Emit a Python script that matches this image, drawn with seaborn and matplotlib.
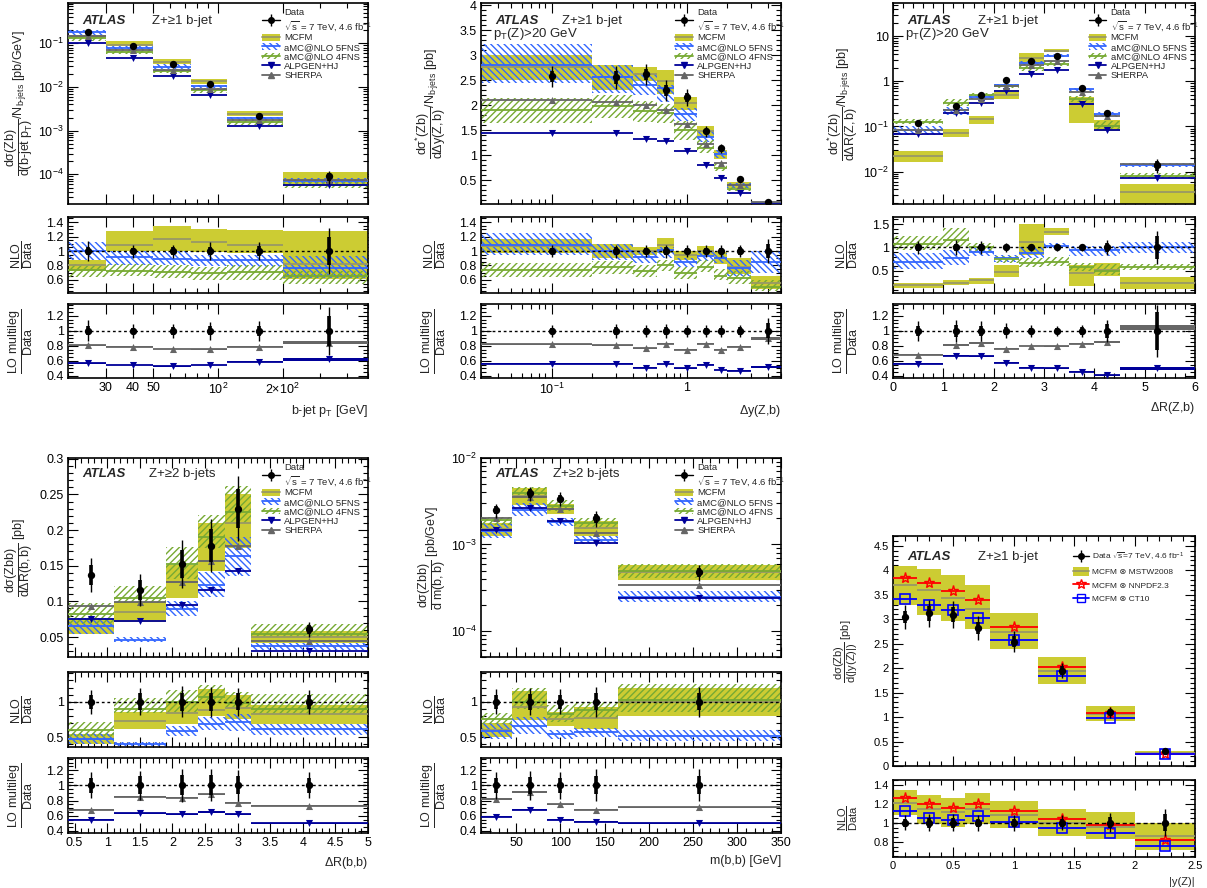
import numpy as np
import matplotlib
matplotlib.use("Agg")
import matplotlib.pyplot as plt
import seaborn as sns
from matplotlib.lines import Line2D
from matplotlib.patches import Patch
from matplotlib.ticker import (FixedLocator, FuncFormatter, MultipleLocator,
                               NullFormatter, LogLocator)

# ---------------- data (predictions stored as ratio to data) ----------------
# b-jet pT, Z + >=1 b-jet
pt_edges = [20, 30, 50, 75, 110, 200, 500]
pt_x = [24.8, 40, 62, 92, 155, 330]
pt_data = [0.18, 0.087, 0.033, 0.012, 0.0022, 9e-5]
pt_err = [0.14, 0.09, 0.09, 0.12, 0.13, 0.32]
pt_stat = [0.06, 0.045, 0.05, 0.06, 0.07, 0.2]
pt_mcfm = [0.80, 1.08, 1.16, 1.12, 1.09, 0.82]
pt_mcfm_lo = [0.72, 1.0, 1.0, 0.98, 0.97, 0.62]
pt_mcfm_hi = [0.88, 1.27, 1.35, 1.30, 1.29, 1.28]
pt_5f = [1.0, 0.92, 0.89, 0.87, 0.87, 0.77]
pt_5f_lo = [0.88, 0.80, 0.80, 0.79, 0.78, 0.63]
pt_5f_hi = [1.12, 1.0, 1.0, 0.95, 0.95, 0.93]
pt_4f = [0.74, 0.73, 0.71, 0.70, 0.71, 0.65]
pt_4f_lo = [0.64, 0.65, 0.63, 0.60, 0.60, 0.55]
pt_4f_hi = [0.82, 0.82, 0.80, 0.78, 0.80, 0.73]
pt_sh = [0.81, 0.79, 0.76, 0.755, 0.79, 0.845]
pt_sh_unc = [0.006, 0.006, 0.006, 0.006, 0.008, 0.022]
pt_alp = [0.57, 0.545, 0.53, 0.545, 0.59, 0.62]
pt_alp_unc = [0.005, 0.005, 0.005, 0.005, 0.008, 0.015]

# Delta y(Z,b)
dy_edges = [0.03, 0.2, 0.4, 0.6, 0.8, 1.2, 1.6, 2.0, 3.0, 5.0]
dy_x = [0.1, 0.3, 0.5, 0.7, 1.0, 1.4, 1.8, 2.5, 4.0]
dy_data = [2.58, 2.56, 2.62, 2.30, 2.16, 1.48, 1.14, 0.52, 0.07]
dy_err = [0.08, 0.09, 0.08, 0.09, 0.08, 0.08, 0.08, 0.08, 0.17]
dy_stat = [0.04, 0.05, 0.04, 0.05, 0.04, 0.04, 0.04, 0.05, 0.10]
dy_mcfm = [1.07, 1.0, 1.0, 1.08, 0.95, 1.0, 0.90, 0.78, 0.56]
dy_mcfm_lo = [0.97, 0.90, 0.95, 0.97, 0.88, 0.93, 0.82, 0.68, 0.47]
dy_mcfm_hi = [1.17, 1.10, 1.06, 1.18, 1.0, 1.07, 0.98, 0.90, 0.65]
dy_5f = [1.09, 1.0, 0.92, 1.02, 0.85, 0.93, 0.91, 0.77, 0.85]
dy_5f_lo = [0.95, 0.88, 0.84, 0.90, 0.78, 0.86, 0.84, 0.66, 0.70]
dy_5f_hi = [1.25, 1.10, 1.0, 1.05, 0.90, 1.02, 0.97, 0.87, 1.0]
dy_4f = [0.74, 0.78, 0.72, 0.80, 0.70, 0.78, 0.66, 0.63, 0.50]
dy_4f_lo = [0.64, 0.68, 0.64, 0.72, 0.61, 0.71, 0.60, 0.55, 0.45]
dy_4f_hi = [0.83, 0.86, 0.80, 0.88, 0.78, 0.88, 0.75, 0.73, 0.60]
dy_sh = [0.82, 0.81, 0.77, 0.83, 0.75, 0.83, 0.75, 0.79, 0.90]
dy_sh_unc = [0.004, 0.004, 0.004, 0.004, 0.004, 0.005, 0.005, 0.006, 0.02]
dy_alp = [0.565, 0.565, 0.51, 0.56, 0.50, 0.55, 0.48, 0.47, 0.52]
dy_alp_unc = [0.004, 0.004, 0.004, 0.004, 0.004, 0.005, 0.005, 0.005, 0.01]

# Delta R(Z,b)
dr_edges = [0, 1, 1.5, 2, 2.5, 3, 3.5, 4, 4.5, 6]
dr_x = [0.5, 1.25, 1.75, 2.25, 2.75, 3.25, 3.75, 4.25, 5.25]
dr_data = [0.119, 0.29, 0.49, 1.05, 2.9, 3.6, 0.71, 0.20, 0.014]
dr_err = [0.13, 0.15, 0.13, 0.10, 0.08, 0.07, 0.08, 0.15, 0.35]
dr_stat = [0.07, 0.08, 0.07, 0.05, 0.04, 0.04, 0.05, 0.09, 0.25]
dr_mcfm = [0.19, 0.25, 0.30, 0.48, 1.12, 1.33, 0.45, 0.52, 0.25]
dr_mcfm_lo = [0.14, 0.20, 0.23, 0.38, 0.85, 1.27, 0.17, 0.40, 0.12]
dr_mcfm_hi = [0.24, 0.30, 0.35, 0.62, 1.50, 1.42, 0.62, 0.68, 0.38]
dr_5f = [0.70, 0.78, 0.90, 0.78, 0.88, 1.04, 0.94, 0.95, 1.0]
dr_5f_lo = [0.55, 0.62, 0.82, 0.70, 0.78, 0.98, 0.82, 0.82, 0.88]
dr_5f_hi = [0.88, 0.95, 1.0, 0.85, 1.0, 1.10, 1.03, 1.03, 1.12]
dr_4f = [1.08, 1.17, 1.0, 0.75, 0.67, 0.69, 0.58, 0.50, 0.58]
dr_4f_lo = [0.95, 1.0, 0.90, 0.68, 0.58, 0.60, 0.50, 0.42, 0.52]
dr_4f_hi = [1.25, 1.42, 1.10, 0.82, 0.78, 0.80, 0.68, 0.65, 0.65]
dr_sh = [0.685, 0.815, 0.84, 0.765, 0.80, 0.795, 0.83, 0.85, 1.05]
dr_sh_unc = [0.008, 0.01, 0.01, 0.006, 0.006, 0.006, 0.008, 0.012, 0.035]
dr_alp = [0.565, 0.67, 0.665, 0.575, 0.51, 0.50, 0.455, 0.41, 0.505]
dr_alp_unc = [0.006, 0.008, 0.006, 0.005, 0.005, 0.005, 0.006, 0.008, 0.02]

# Delta R(b,b), Z + >=2 b-jets
bb_edges = [0.4, 1.1, 1.9, 2.4, 2.8, 3.2, 5.0]
bb_x = [0.75, 1.5, 2.15, 2.6, 3.0, 4.1]
bb_data = [0.137, 0.116, 0.152, 0.178, 0.23, 0.061]
bb_err = [0.17, 0.19, 0.22, 0.21, 0.20, 0.17]
bb_stat = [0.10, 0.12, 0.13, 0.13, 0.12, 0.10]
bb_mcfm = [0.48, 0.73, 0.84, 0.88, 0.91, 0.82]
bb_mcfm_lo = [0.40, 0.61, 0.69, 0.80, 0.76, 0.69]
bb_mcfm_hi = [0.55, 0.86, 0.99, 1.18, 1.09, 0.95]
bb_5f = [0.48, 0.40, 0.59, 0.69, 0.71, 0.62]
bb_5f_lo = [0.40, 0.37, 0.52, 0.60, 0.59, 0.53]
bb_5f_hi = [0.56, 0.43, 0.66, 0.79, 0.83, 0.69]
bb_4f = [0.60, 0.90, 1.0, 1.07, 0.98, 0.90]
bb_4f_lo = [0.50, 0.84, 0.86, 0.98, 0.91, 0.82]
bb_4f_hi = [0.71, 1.05, 1.16, 1.24, 1.14, 1.11]
bb_sh = [0.68, 0.85, 0.84, 0.88, 0.77, 0.73]
bb_sh_unc = [0.006, 0.006, 0.006, 0.006, 0.006, 0.005]
bb_alp = [0.55, 0.63, 0.62, 0.65, 0.62, 0.50]
bb_alp_unc = [0.008, 0.008, 0.008, 0.008, 0.008, 0.008]

# m(b,b)
mbb_edges = [10, 45, 85, 115, 165, 350]
mbb_x = [27.5, 65, 100, 140, 257.5]
mbb_data = [0.0025, 0.0039, 0.0034, 0.0020, 0.00048]
mbb_err = [0.18, 0.19, 0.18, 0.21, 0.21]
mbb_stat = [0.10, 0.11, 0.10, 0.12, 0.12]
mbb_mcfm = [0.60, 0.93, 0.76, 0.77, 1.0]
mbb_mcfm_lo = [0.50, 0.74, 0.66, 0.62, 0.80]
mbb_mcfm_hi = [0.70, 1.15, 0.86, 0.93, 1.20]
mbb_5f = [0.58, 0.65, 0.54, 0.57, 0.52]
mbb_5f_lo = [0.48, 0.55, 0.48, 0.50, 0.45]
mbb_5f_hi = [0.70, 0.78, 0.60, 0.63, 0.60]
mbb_4f = [0.76, 1.0, 0.82, 0.88, 1.02]
mbb_4f_lo = [0.68, 0.90, 0.72, 0.75, 0.85]
mbb_4f_hi = [0.84, 1.20, 0.95, 1.0, 1.25]
mbb_sh = [0.82, 0.91, 0.75, 0.68, 0.71]
mbb_sh_unc = [0.008, 0.01, 0.008, 0.006, 0.005]
mbb_alp = [0.59, 0.68, 0.55, 0.52, 0.50]
mbb_alp_unc = [0.008, 0.008, 0.008, 0.008, 0.008]

# |y(Z)|
yz_edges = [0, 0.2, 0.4, 0.6, 0.8, 1.2, 1.6, 2.0, 2.5]
yz_x = [0.1, 0.3, 0.5, 0.7, 1.0, 1.4, 1.8, 2.25]
yz_data = [3.05, 3.12, 3.09, 2.82, 2.54, 1.95, 1.10, 0.31]
yz_err = [0.08, 0.09, 0.09, 0.085, 0.085, 0.08, 0.10, 0.14]
yz_stat = [0.04, 0.05, 0.05, 0.045, 0.045, 0.045, 0.06, 0.09]
yz_mstw = [1.21, 1.15, 1.11, 1.14, 1.08, 1.0, 0.96, 0.86]
yz_mstw_lo = [1.08, 0.99, 0.96, 0.99, 0.94, 0.86, 0.83, 0.71]
yz_mstw_hi = [1.34, 1.29, 1.26, 1.31, 1.23, 1.14, 1.11, 1.0]
yz_nnpdf = [1.26, 1.20, 1.16, 1.20, 1.12, 1.04, 0.98, 0.82]
yz_ct10 = [1.12, 1.055, 1.03, 1.07, 1.01, 0.94, 0.89, 0.76]

# ---------------- style ----------------
sns.set_theme(style="ticks")
plt.rcParams["font.family"] = ["Liberation Sans", "DejaVu Sans"]
plt.rcParams["mathtext.fontset"] = "custom"
plt.rcParams["mathtext.rm"] = "Liberation Sans"
plt.rcParams["mathtext.it"] = "Liberation Sans:italic"
plt.rcParams["mathtext.bf"] = "Liberation Sans:bold"
plt.rcParams["mathtext.default"] = "regular"
plt.rcParams["hatch.linewidth"] = 1.0

C_MCFM = "#cccc33"
C_MCFM_LINE = "#999966"
C_5F = "#3366ff"
C_4F = "#77aa33"
C_ALP = "#000099"
C_SH = "#666666"
H_5F = "\\\\\\\\\\"
H_4F = "/////"

W, H = 1207, 888
fig = plt.figure(figsize=(W / 100, H / 100), dpi=100)


def add_ax(x0, x1, y0, y1):
    return fig.add_axes([x0 / W, 1 - y1 / H, (x1 - x0) / W, (y1 - y0) / H])


def style(ax, fs=9):
    ax.set_facecolor("white")
    ax.tick_params(which="both", direction="in", top=True, right=True,
                   labelsize=fs, pad=3, color="black", labelcolor="black")
    ax.tick_params(which="major", length=7, width=0.8)
    ax.tick_params(which="minor", length=3.5, width=0.8)
    for s in ax.spines.values():
        s.set_visible(True)
        s.set_color("black")
        s.set_linewidth(1.2)


def gfmt(v, p):
    return f"{v:g}"


def log_fmt(v, p):
    n = int(round(np.log10(v)))
    if n == 0:
        return "1"
    if n == 1:
        return "10"
    return f"$10^{{{n}}}$"


def log_y(ax):
    ax.set_yscale("log")
    ax.yaxis.set_major_locator(LogLocator(base=10, numticks=20))
    ax.yaxis.set_minor_locator(LogLocator(base=10, subs=np.arange(2, 10), numticks=20))
    ax.yaxis.set_major_formatter(FuncFormatter(log_fmt))
    ax.yaxis.set_minor_formatter(NullFormatter())


def lin_y(ax, major, minor):
    ax.yaxis.set_major_locator(MultipleLocator(major))
    ax.yaxis.set_minor_locator(MultipleLocator(minor))
    ax.yaxis.set_major_formatter(FuncFormatter(gfmt))


def lin_x(ax, major, minor):
    ax.xaxis.set_major_locator(MultipleLocator(major))
    ax.xaxis.set_minor_locator(MultipleLocator(minor))
    ax.xaxis.set_major_formatter(FuncFormatter(gfmt))


def steps(ax, edges, vals, color, lw=1.3, z=4):
    e = np.asarray(edges, float)
    ax.hlines(vals, e[:-1], e[1:], colors=color, lw=lw, zorder=z)


def band(ax, edges, lo, hi, z=1, **kw):
    e = np.asarray(edges, float)
    lo = np.asarray(lo, float)
    hi = np.asarray(hi, float)
    ax.bar(e[:-1], hi - lo, width=np.diff(e), bottom=lo, align="edge", zorder=z, **kw)


def hatched(ax, edges, lo, hi, color, hatch, z=2):
    band(ax, edges, lo, hi, facecolor="none", edgecolor=color, hatch=hatch, lw=0, z=z)


def data_points(ax, x, y, err, stat, s=28):
    y = np.asarray(y, float)
    ax.errorbar(x, y, yerr=y * np.asarray(err), fmt="none", ecolor="black",
                elinewidth=1.0, capsize=0, zorder=8)
    ax.errorbar(x, y, yerr=y * np.asarray(stat), fmt="none", ecolor="black",
                elinewidth=2.6, capsize=0, zorder=8)
    sns.scatterplot(x=x, y=y, color="black", s=s, linewidth=0, zorder=9, ax=ax, legend=False)


def gen_markers(ax, x, y, color, marker):
    sns.scatterplot(x=x, y=y, color=color, marker=marker, s=26, linewidth=0,
                    zorder=6, ax=ax, legend=False)


def unit_line(ax, ls=(0, (2, 2))):
    ax.axhline(1.0, color="black", lw=1.0, ls=ls, zorder=7)


def data_handle():
    return (Line2D([], [], color="black", marker="o", ms=4, lw=1.0),
            Line2D([], [], color="black", marker="|", ms=9, mew=1.0, lw=0))


def nlo_legend(ax):
    h = [data_handle(),
         (Patch(facecolor=C_MCFM, lw=0), Line2D([], [], color=C_MCFM_LINE, lw=1.3)),
         (Patch(facecolor="none", edgecolor=C_5F, hatch=H_5F, lw=0), Line2D([], [], color=C_5F, lw=1.3)),
         (Patch(facecolor="none", edgecolor=C_4F, hatch=H_4F, lw=0), Line2D([], [], color=C_4F, lw=1.3)),
         Line2D([], [], color=C_ALP, marker="v", ms=5, lw=1.3),
         Line2D([], [], color=C_SH, marker="^", ms=5, lw=1.3)]
    labels = ["Data\n$\\sqrt{s}$ = 7 TeV, 4.6 fb$^{-1}$", "MCFM", "aMC@NLO 5FNS",
              "aMC@NLO 4FNS", "ALPGEN+HJ", "SHERPA"]
    leg = ax.legend(h, labels, loc="upper left", bbox_to_anchor=(0.635, 0.995),
                    frameon=False, fontsize=6.8, handlelength=1.9, handleheight=0.75,
                    labelspacing=0.05, borderaxespad=0, handletextpad=0.45)
    leg.set_zorder(20)


def build(edges, x, data, err, stat, mcfm, mcfm_lo, mcfm_hi, f5, f5_lo, f5_hi,
          f4, f4_lo, f4_hi, sh, sh_unc, alp, alp_unc):
    return {k: np.asarray(v, float) for k, v in dict(locals()).items()}


def block(P, cx, ry, logx, xlim):
    am = add_ax(cx[0], cx[1], ry[0], ry[1])
    an = add_ax(cx[0], cx[1], ry[2], ry[3])
    al = add_ax(cx[0], cx[1], ry[4], ry[5])
    for a in (am, an, al):
        style(a)
        if logx:
            a.set_xscale("log")
    d, e = P["data"], P["edges"]
    ones = d / d

    # main distribution
    band(am, e, d * P["mcfm_lo"], d * P["mcfm_hi"], color=C_MCFM, lw=0, z=1)
    hatched(am, e, d * P["f5_lo"], d * P["f5_hi"], C_5F, H_5F)
    hatched(am, e, d * P["f4_lo"], d * P["f4_hi"], C_4F, H_4F)
    steps(am, e, d * P["mcfm"], C_MCFM_LINE)
    steps(am, e, d * P["f5"], C_5F)
    steps(am, e, d * P["f4"], C_4F)
    steps(am, e, d * P["alp"], C_ALP)
    steps(am, e, d * P["sh"], C_SH)
    gen_markers(am, P["x"], d * P["alp"], C_ALP, "v")
    gen_markers(am, P["x"], d * P["sh"], C_SH, "^")
    data_points(am, P["x"], d, P["err"], P["stat"])

    # NLO / data
    band(an, e, P["mcfm_lo"], P["mcfm_hi"], color=C_MCFM, lw=0, z=1)
    hatched(an, e, P["f5_lo"], P["f5_hi"], C_5F, H_5F)
    hatched(an, e, P["f4_lo"], P["f4_hi"], C_4F, H_4F)
    steps(an, e, P["mcfm"], C_MCFM_LINE)
    steps(an, e, P["f5"], C_5F)
    steps(an, e, P["f4"], C_4F)
    unit_line(an)
    data_points(an, P["x"], ones, P["err"], P["stat"])

    # LO multileg / data
    band(al, e, P["sh"] - P["sh_unc"], P["sh"] + P["sh_unc"], color=C_SH, lw=0, z=3)
    band(al, e, P["alp"] - P["alp_unc"], P["alp"] + P["alp_unc"], color=C_ALP, lw=0, z=3)
    steps(al, e, P["sh"], C_SH)
    steps(al, e, P["alp"], C_ALP)
    gen_markers(al, P["x"], P["sh"], C_SH, "^")
    gen_markers(al, P["x"], P["alp"], C_ALP, "v")
    unit_line(al)
    data_points(al, P["x"], ones, P["err"], P["stat"])

    for a in (am, an, al):
        a.set_xlim(xlim)
    am.tick_params(labelbottom=False)
    an.tick_params(labelbottom=False)
    an.set_ylabel(r"$\dfrac{NLO}{Data}$", fontsize=9)
    al.set_ylabel(r"$\dfrac{LO\ multileg}{Data}$", fontsize=9)
    lin_y(al, 0.2, 0.05)
    al.set_ylim(0.373, 1.36)
    nlo_legend(am)
    return am, an, al


def atlas(ax, x_z, label, y=0.91):
    ax.text(0.047, y, "ATLAS", transform=ax.transAxes, fontsize=9.5,
            fontweight="bold", fontstyle="italic", va="center", zorder=20)
    ax.text(x_z, y, label, transform=ax.transAxes, fontsize=9.5, va="center", zorder=20)


def label_pos(axes, x):
    for a in axes:
        a.yaxis.set_label_coords(x, 0.5)


TOP = (3, 204, 217, 293, 304, 378)
BOT = (458, 657, 672, 747, 758, 833)
COL = [(68, 368), (481, 781), (893, 1195)]

# ---------------- panel 1: b-jet pT ----------------
P = build(pt_edges, pt_x, pt_data, pt_err, pt_stat, pt_mcfm, pt_mcfm_lo, pt_mcfm_hi,
          pt_5f, pt_5f_lo, pt_5f_hi, pt_4f, pt_4f_lo, pt_4f_hi,
          pt_sh, pt_sh_unc, pt_alp, pt_alp_unc)
am, an, al = block(P, COL[0], TOP, True, (20, 500))
log_y(am)
am.set_ylim(2.1e-5, 0.84)
lin_y(an, 0.2, 0.05)
an.set_ylim(0.42, 1.47)
for a in (am, an, al):
    a.xaxis.set_major_locator(FixedLocator([30, 40, 50, 100, 200]))
    a.xaxis.set_minor_locator(FixedLocator([20, 60, 70, 80, 90, 300, 400, 500]))
    a.xaxis.set_minor_formatter(NullFormatter())
al.xaxis.set_major_formatter(FuncFormatter(
    lambda v, p: {30: "30", 40: "40", 50: "50", 100: "$10^{2}$", 200: "$2{\\times}10^{2}$"}.get(int(round(v)), "")))
am.set_ylabel(r"$\dfrac{d\sigma(Zb)}{d(b\text{-}jet\ p_{T})}$/N$_{b\text{-}jets}$ [pb/GeV]", fontsize=9)
al.set_xlabel(r"b-jet p$_{T}$ [GeV]", loc="right", fontsize=9)
atlas(am, 0.28, "Z+≥1 b-jet")
label_pos((am, an, al), -0.11)

# ---------------- panel 2: Delta y(Z,b) ----------------
P = build(dy_edges, dy_x, dy_data, dy_err, dy_stat, dy_mcfm, dy_mcfm_lo, dy_mcfm_hi,
          dy_5f, dy_5f_lo, dy_5f_hi, dy_4f, dy_4f_lo, dy_4f_hi,
          dy_sh, dy_sh_unc, dy_alp, dy_alp_unc)
am, an, al = block(P, COL[1], TOP, True, (0.03, 5.0))
lin_y(am, 0.5, 0.1)
am.set_ylim(0.03, 4.05)
lin_y(an, 0.2, 0.05)
an.set_ylim(0.42, 1.47)
minor_dy = [0.03, 0.04, 0.05, 0.06, 0.07, 0.08, 0.09, 0.2, 0.3, 0.4, 0.5, 0.6, 0.7,
            0.8, 0.9, 2, 3, 4, 5]
for a in (am, an, al):
    a.xaxis.set_major_locator(FixedLocator([0.1, 1.0]))
    a.xaxis.set_minor_locator(FixedLocator(minor_dy))
    a.xaxis.set_minor_formatter(NullFormatter())
al.xaxis.set_major_formatter(FuncFormatter(lambda v, p: "1" if v > 0.5 else "$10^{-1}$"))
am.set_ylabel(r"$\dfrac{d\sigma^{*}(Zb)}{d\Delta y(Z,b)}$/N$_{b\text{-}jets}$ [pb]", fontsize=9)
al.set_xlabel(r"$\Delta$y(Z,b)", loc="right", fontsize=9)
atlas(am, 0.27, "Z+≥1 b-jet")
am.text(0.04, 0.845, r"p$_{T}$(Z)>20 GeV", transform=am.transAxes, fontsize=9.5, va="center", zorder=20)
label_pos((am, an, al), -0.11)

# ---------------- panel 3: Delta R(Z,b) ----------------
P = build(dr_edges, dr_x, dr_data, dr_err, dr_stat, dr_mcfm, dr_mcfm_lo, dr_mcfm_hi,
          dr_5f, dr_5f_lo, dr_5f_hi, dr_4f, dr_4f_lo, dr_4f_hi,
          dr_sh, dr_sh_unc, dr_alp, dr_alp_unc)
am, an, al = block(P, COL[2], TOP, False, (0, 6))
log_y(am)
am.set_ylim(0.0019, 55)
lin_y(an, 0.5, 0.1)
an.set_ylim(0.03, 1.65)
for a in (am, an, al):
    lin_x(a, 1, 0.2)
am.set_ylabel(r"$\dfrac{d\sigma^{*}(Zb)}{d\Delta R(Z,b)}$/N$_{b\text{-}jets}$ [pb]", fontsize=9)
al.set_xlabel(r"$\Delta$R(Z,b)", loc="right", fontsize=9)
atlas(am, 0.28, "Z+≥1 b-jet")
am.text(0.04, 0.845, r"p$_{T}$(Z)>20 GeV", transform=am.transAxes, fontsize=9.5, va="center", zorder=20)
label_pos((am, an, al), -0.11)

# ---------------- panel 4: Delta R(b,b) ----------------
P = build(bb_edges, bb_x, bb_data, bb_err, bb_stat, bb_mcfm, bb_mcfm_lo, bb_mcfm_hi,
          bb_5f, bb_5f_lo, bb_5f_hi, bb_4f, bb_4f_lo, bb_4f_hi,
          bb_sh, bb_sh_unc, bb_alp, bb_alp_unc)
am, an, al = block(P, COL[0], BOT, False, (0.4, 5.0))
lin_y(am, 0.05, 0.01)
am.set_ylim(0.022, 0.301)
lin_y(an, 0.5, 0.1)
an.set_ylim(0.36, 1.42)
for a in (am, an, al):
    lin_x(a, 0.5, 0.1)
am.set_ylabel(r"$\dfrac{d\sigma(Zbb)}{d\Delta R(b,b)}$ [pb]", fontsize=9)
al.set_xlabel(r"$\Delta$R(b,b)", loc="right", fontsize=9)
atlas(am, 0.27, "Z+≥2 b-jets", y=0.92)
label_pos((am, an, al), -0.11)

# ---------------- panel 5: m(b,b) ----------------
P = build(mbb_edges, mbb_x, mbb_data, mbb_err, mbb_stat, mbb_mcfm, mbb_mcfm_lo, mbb_mcfm_hi,
          mbb_5f, mbb_5f_lo, mbb_5f_hi, mbb_4f, mbb_4f_lo, mbb_4f_hi,
          mbb_sh, mbb_sh_unc, mbb_alp, mbb_alp_unc)
am, an, al = block(P, COL[1], BOT, False, (10, 350))
log_y(am)
am.set_ylim(5e-5, 1e-2)
lin_y(an, 0.5, 0.1)
an.set_ylim(0.36, 1.42)
for a in (am, an, al):
    lin_x(a, 50, 10)
am.set_ylabel(r"$\dfrac{d\sigma(Zbb)}{d\ m(b,b)}$ [pb/GeV]", fontsize=9)
al.set_xlabel("m(b,b) [GeV]", loc="right", fontsize=9)
atlas(am, 0.24, "Z+≥2 b-jets", y=0.92)
label_pos((am, an, al), -0.11)

# ---------------- panel 6: |y(Z)| ----------------
d = np.asarray(yz_data, float)
am = add_ax(893, 1195, 536, 766)
ar = add_ax(893, 1195, 780, 857)
for a in (am, ar):
    style(a, fs=8)
    lin_x(a, 0.5, 0.1)
    a.set_xlim(0, 2.5)
band(am, yz_edges, d * np.asarray(yz_mstw_lo), d * np.asarray(yz_mstw_hi), color=C_MCFM, lw=0, z=1)
steps(am, yz_edges, d * np.asarray(yz_mstw), C_MCFM_LINE)
steps(am, yz_edges, d * np.asarray(yz_nnpdf), "red")
steps(am, yz_edges, d * np.asarray(yz_ct10), "blue")
am.plot(yz_x, d * np.asarray(yz_nnpdf), ls="none", marker="*", ms=8, mfc="none", mec="red", mew=1.0, zorder=6)
am.plot(yz_x, d * np.asarray(yz_ct10), ls="none", marker="s", ms=6.5, mfc="none", mec="blue", mew=1.2, zorder=6)
data_points(am, yz_x, d, yz_err, yz_stat)
lin_y(am, 0.5, 0.1)
am.set_ylim(0, 4.7)
am.tick_params(labelbottom=False)
am.set_ylabel(r"$\dfrac{d\sigma(Zb)}{d(|y(Z)|)}$ [pb]", fontsize=8)

band(ar, yz_edges, yz_mstw_lo, yz_mstw_hi, color=C_MCFM, lw=0, z=1)
steps(ar, yz_edges, yz_mstw, C_MCFM_LINE)
steps(ar, yz_edges, yz_nnpdf, "red")
steps(ar, yz_edges, yz_ct10, "blue")
ar.plot(yz_x, yz_nnpdf, ls="none", marker="*", ms=8, mfc="none", mec="red", mew=1.0, zorder=6)
ar.plot(yz_x, yz_ct10, ls="none", marker="s", ms=6.5, mfc="none", mec="blue", mew=1.2, zorder=6)
unit_line(ar, ls=(0, (3, 2)))
data_points(ar, yz_x, d / d, yz_err, yz_stat)
lin_y(ar, 0.2, 0.05)
ar.set_ylim(0.64, 1.45)
ar.set_ylabel(r"$\dfrac{NLO}{Data}$", fontsize=8)
ar.set_xlabel("|y(Z)|", loc="right", fontsize=8)
label_pos((am, ar), -0.11)
atlas(am, 0.28, "Z+≥1 b-jet")

h6 = [data_handle(),
      (Patch(facecolor=C_MCFM, lw=0), Line2D([], [], color=C_MCFM_LINE, lw=1.3)),
      Line2D([], [], color="red", marker="*", ms=7, mfc="none", lw=1.3),
      Line2D([], [], color="blue", marker="s", ms=5.5, mfc="none", lw=1.3)]
l6 = ["Data $\\sqrt{s}$=7 TeV, 4.6 fb$^{-1}$", "MCFM ⊗ MSTW2008", "MCFM ⊗ NNPDF2.3", "MCFM ⊗ CT10"]
leg = am.legend(h6, l6, loc="upper left", bbox_to_anchor=(0.585, 0.95), frameon=False,
                fontsize=6.0, handlelength=1.9, handleheight=1.3, labelspacing=0.5,
                borderaxespad=0, handletextpad=0.4)
leg.set_zorder(20)

fig.savefig("out.png", dpi=100, facecolor="white")
